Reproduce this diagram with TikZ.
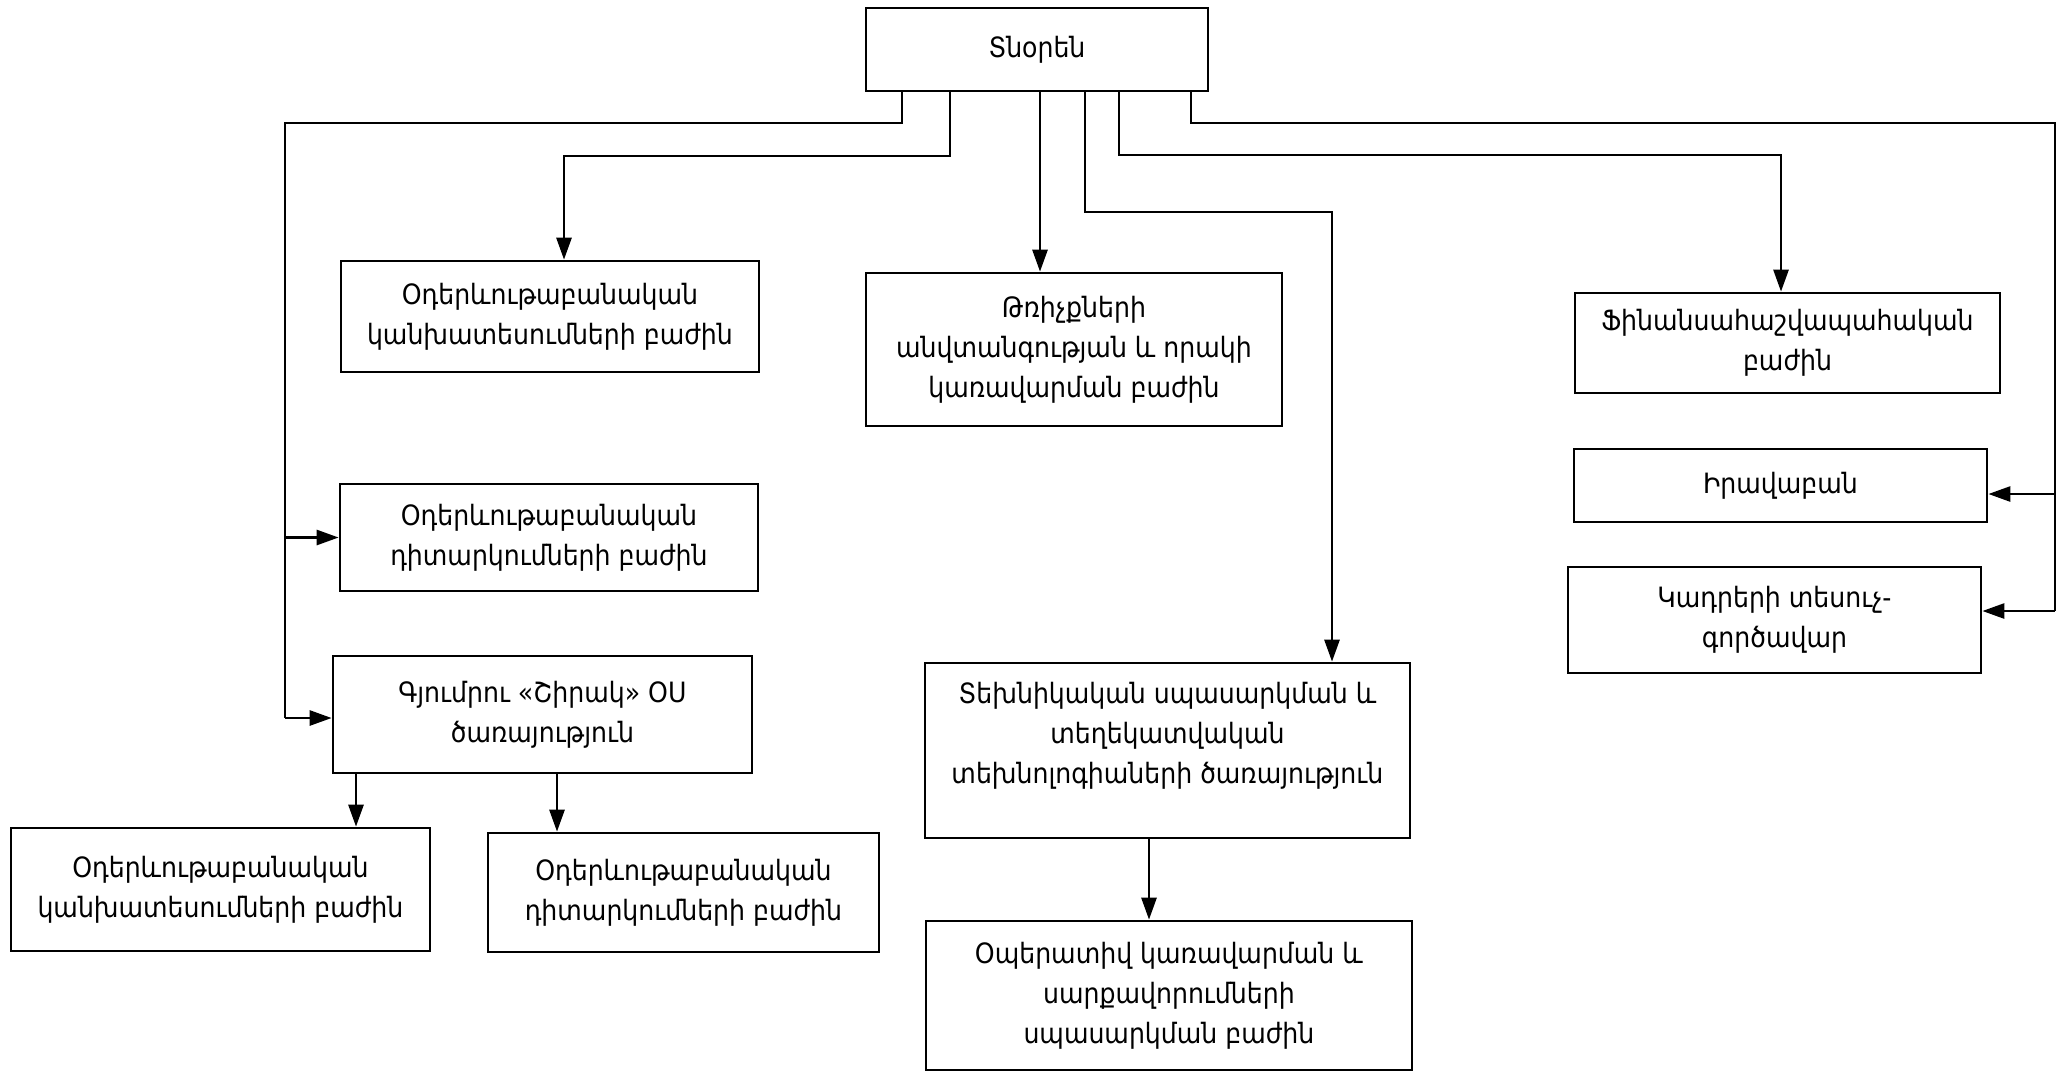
\documentclass[tikz,border=0pt]{standalone}
\usepackage{fontspec}
\IfFontExistsTF{DejaVu Sans Condensed}{\setmainfont{DejaVu Sans Condensed}}{\setmainfont{DejaVu Sans}}
\usetikzlibrary{arrows.meta}
\begin{document}
\begin{tikzpicture}[x=1pt,y=-1pt,
  box/.style={draw, line width=2.7pt, align=center, inner sep=0pt, font=\fontsize{28}{40}\selectfont},
  conn/.style={line width=2.7pt},
  arr/.style={conn, -{Triangle[length=22pt,width=15pt]}}]
\fill[white] (0,0) rectangle (2063,1072);
\useasboundingbox (0,0) rectangle (2063,1072);

% boxes
\node[box, minimum width=342pt, minimum height=83pt] (dir) at (1037,49.5) {Տնօրեն};
\node[box, minimum width=418pt, minimum height=111pt] (b1) at (550,316.5) {Օդերևութաբանական\\կանխատեսումների բաժին};
\node[box, minimum width=416pt, minimum height=153pt] (b2) at (1074,349.5) {Թռիչքների\\անվտանգության և որակի\\կառավարման բաժին};
\node[box, minimum width=425pt, minimum height=100pt] (fin) at (1787.5,343) {Ֆինանսահաշվապահական\\բաժին};
\node[box, minimum width=413pt, minimum height=73pt] (irav) at (1780.5,485.5) {Իրավաբան};
\node[box, minimum width=413pt, minimum height=106pt] (kadr) at (1774.5,620) {Կադրերի տեսուչ-\\գործավար};
\node[box, minimum width=418pt, minimum height=107pt] (b6) at (549,537.5) {Օդերևութաբանական\\դիտարկումների բաժին};
\node[box, minimum width=419pt, minimum height=117pt] (gy) at (542.5,714.5) {Գյումրու «Շիրակ» ՕՍ\\ծառայություն};
\node[box, minimum width=485pt, minimum height=175pt] (tech) at (1167.5,750.5) {Տեխնիկական սպասարկման և\\տեղեկատվական\\տեխնոլոգիաների ծառայություն\\[-4pt]\mbox{}};
\node[box, minimum width=419pt, minimum height=123pt] (bl) at (220.5,889.5) {Օդերևութաբանական\\կանխատեսումների բաժին};
\node[box, minimum width=391pt, minimum height=119pt] (bm) at (683.5,892.5) {Օդերևութաբանական\\դիտարկումների բաժին};
\node[box, minimum width=486pt, minimum height=149pt] (op) at (1169,995.5) {Օպերատիվ կառավարման և\\սարքավորումների\\սպասարկման բաժին};

% bend points
\coordinate (l1) at (902,123);
\coordinate (l2) at (285,123);
\coordinate (l3) at (285,718);
\coordinate (l4) at (285,537.5);
\coordinate (a1) at (950,156);
\coordinate (a2) at (564,156);
\coordinate (c3) at (1040,0);
\coordinate (t1) at (1085,212);
\coordinate (t2) at (1332,212);
\coordinate (f1) at (1119,155);
\coordinate (f2) at (1781,155);
\coordinate (r1) at (1191,123);
\coordinate (r2) at (2055,123);
\coordinate (r3) at (2055,611);
\coordinate (r4) at (2055,494);
\coordinate (g1) at (356,0);
\coordinate (g2) at (557,0);
\coordinate (o1) at (1149,0);

% connectors
\draw[conn] (dir.south -| l1) -- (l1) -- (l2) -- (l3);
\draw[arr] (l4) -- (b6.west);
\draw[arr] (l3) -- (gy.west |- l3);
\draw[arr] (dir.south -| a1) -- (a1) -- (a2) -- (b1.north -| a2);
\draw[arr] (dir.south -| c3) -- (b2.north -| c3);
\draw[arr] (dir.south -| t1) -- (t1) -- (t2) -- (tech.north -| t2);
\draw[arr] (dir.south -| f1) -- (f1) -- (f2) -- (fin.north -| f2);
\draw[conn] (dir.south -| r1) -- (r1) -- (r2) -- (r3);
\draw[arr] (r4) -- (irav.east |- r4);
\draw[arr] (r3) -- (kadr.east |- r3);
\draw[arr] (gy.south -| g1) -- (bl.north -| g1);
\draw[arr] (gy.south -| g2) -- (bm.north -| g2);
\draw[arr] (tech.south -| o1) -- (op.north -| o1);
\end{tikzpicture}
\end{document}
